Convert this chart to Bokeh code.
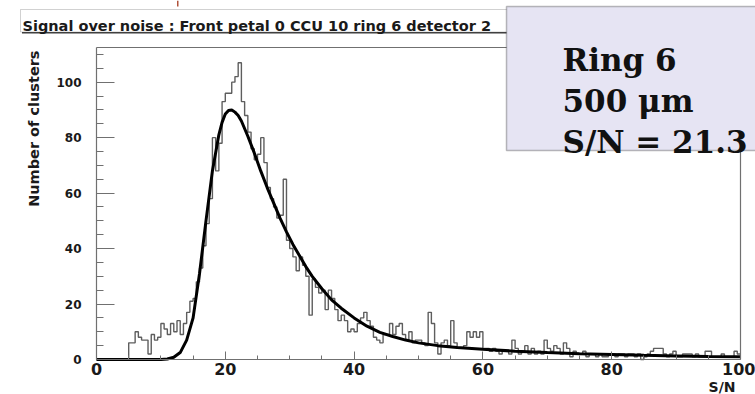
from bokeh.plotting import figure
from bokeh.models import Range1d, FixedTicker, Label, BoxAnnotation, LinearAxis
from bokeh.embed import file_html
from bokeh.resources import INLINE

# ---- histogram: clusters per S/N bin (bin width 0.5, range 0..100) ----
bin_width = 0.5
counts = [
    0, 0, 0, 0, 0, 0, 0, 0, 0, 0,            # 0.0 - 4.5
    6, 6, 10, 8, 7, 7, 2, 9, 7, 8,           # 5.0 - 9.5
    13, 11, 9, 13, 10, 14, 9, 13, 17, 21,    # 10.0 - 14.5
    22, 28, 33, 41, 49, 58, 80, 68, 78, 93,  # 15.0 - 19.5
    96, 96, 100, 102, 107, 93, 88, 82, 76, 72,  # 20.0 - 24.5
    74, 80, 71, 62, 58, 55, 51, 52, 65, 43,  # 25.0 - 29.5
    40, 37, 32, 37, 34, 30, 16, 29, 26, 24,  # 30.0 - 34.5
    25, 18, 25, 22, 18, 14, 16, 14, 10, 11,  # 35.0 - 39.5
    10, 13, 15, 17, 14, 12, 8, 7, 6, 9,      # 40.0 - 44.5
    9, 13, 9, 12, 13, 9, 7, 10, 6, 7,        # 45.0 - 49.5
    7, 6, 5, 17, 13, 6, 2, 6, 7, 5,          # 50.0 - 54.5
    14, 6, 4, 4, 5, 10, 8, 10, 8, 10,        # 55.0 - 59.5
    4, 4, 3, 4, 3, 2, 3, 3, 2, 7,            # 60.0 - 64.5
    4, 2, 3, 5, 2, 4, 2, 3, 2, 7,            # 65.0 - 69.5
    4, 3, 5, 4, 2, 6, 4, 1, 3, 2,            # 70.0 - 74.5
    2, 3, 1, 2, 2, 1, 2, 1, 1, 2,            # 75.0 - 79.5
    2, 1, 2, 2, 1, 2, 2, 1, 2, 0,            # 80.0 - 84.5
    1, 2, 3, 4, 4, 4, 2, 1, 2, 3,            # 85.0 - 89.5
    1, 1, 2, 2, 2, 1, 2, 1, 1, 3,            # 90.0 - 94.5
    3, 1, 1, 1, 2, 1, 1, 1, 3, 2,            # 95.0 - 99.5
]
bin_left = [i * bin_width for i in range(len(counts))]

# ---- Landau-like fit curve, sampled ----
fit_x = [0, 5, 10, 11, 12, 13, 14, 15, 16, 17, 18, 19, 19.5, 20, 20.5, 21,
         21.5, 22, 22.5, 23.5, 24.5, 25.5, 26.5, 27.5, 28.5, 29.5, 30.5,
         31.5, 32.5, 33.5, 35, 36.5, 38, 40, 42, 44, 46, 48, 50, 53, 56,
         60, 65, 70, 75, 80, 85, 90, 95, 100]
fit_y = [0, 0, 0, 0.2, 0.8, 2.5, 7, 15, 31, 50, 68, 81, 85.5, 88.5, 89.8, 90,
         89.2, 88, 86, 80.5, 74.5, 68, 62, 56.5, 51, 46, 41.5,
         37.5, 33.5, 30, 25.5, 21.5, 18.5, 15, 12, 9.8, 8.3, 7, 6, 5, 4.3,
         3.7, 3, 2.5, 2.1, 1.8, 1.5, 1.3, 1.1, 1.0]

x_major = [0, 20, 40, 60, 80, 100]
x_minor = [5, 10, 15, 25, 30, 35, 45, 50, 55, 65, 70, 75, 85, 90, 95]
y_major = [0, 20, 40, 60, 80, 100]
y_minor = [5, 10, 15, 25, 30, 35, 45, 50, 55, 65, 70, 75, 85, 90, 95, 105, 110]

title_text = "Signal over noise : Front petal 0 CCU 10 ring 6 detector 2"
box_lines = ["Ring 6", "500 \u03bcm", "S/N = 21.3"]

# ---- page geometry (pixels) ----
W, H = 755, 394
X_LO, X_HI = 0.0, 100.0          # histogram axis range
Y_LO, Y_HI = 0.0, 112.5
PX_XLO, PX_XHI = 96, 740         # where the axis box sits on the page
PX_YLO, PX_YHI = 359, 47

sx_per = (PX_XHI - PX_XLO) / (X_HI - X_LO)
sy_per = (PX_YLO - PX_YHI) / (Y_HI - Y_LO)

# the plotting frame covers the whole page; axes are pinned to the box edges
x_range = Range1d(X_LO - PX_XLO / sx_per, X_LO + (W - PX_XLO) / sx_per)
y_range = Range1d(Y_LO - (H - PX_YLO) / sy_per, Y_LO + PX_YLO / sy_per)


def sx(px):
    """page x -> screen x of the frame"""
    return px


def sy(py):
    """page y (from top) -> screen y (from bottom)"""
    return H - py


def screen_box(left, right, top, bottom, **kw):
    return BoxAnnotation(left=sx(left), right=sx(right), top=sy(top), bottom=sy(bottom),
                         left_units="screen", right_units="screen",
                         top_units="screen", bottom_units="screen", **kw)


p = figure(width=W, height=H, output_backend="svg", toolbar_location=None,
           x_range=x_range, y_range=y_range,
           min_border=0, min_border_left=0, min_border_right=0,
           min_border_top=0, min_border_bottom=0)
p.grid.visible = False
p.outline_line_color = None
p.background_fill_color = "white"
p.border_fill_color = "white"

axis_col = "#707070"
label_font = "DejaVu Sans"


def style_axis(ax):
    ax.axis_line_color = axis_col
    ax.axis_line_width = 1.2
    ax.major_tick_line_color = axis_col
    ax.minor_tick_line_color = axis_col
    ax.major_tick_out = 0
    ax.minor_tick_out = 0
    ax.major_label_text_font = label_font
    ax.major_label_text_font_style = "bold"
    ax.major_label_text_color = "#1a1a1a"


xa = p.xaxis[0]
ya = p.yaxis[0]
style_axis(xa)
style_axis(ya)
xa.fixed_location = Y_LO
xa.bounds = (X_LO, X_HI)
ya.fixed_location = X_LO
ya.bounds = (Y_LO, Y_HI)

xa.ticker = FixedTicker(ticks=x_major, minor_ticks=x_minor)
ya.ticker = FixedTicker(ticks=y_major, minor_ticks=y_minor)
xa.major_tick_in = 8
xa.minor_tick_in = 4
ya.major_tick_in = 18
ya.minor_tick_in = 7
xa.major_label_text_font_size = "16px"
xa.major_label_standoff = 3
ya.major_label_text_font_size = "12px"
ya.major_label_standoff = 15

# closing edges of the axis box (top and right), no ticks
for place, loc, bnds in (("above", Y_HI, (X_LO, X_HI)), ("right", X_HI, (Y_LO, Y_HI))):
    edge = LinearAxis(fixed_location=loc, bounds=bnds,
                      ticker=FixedTicker(ticks=[], minor_ticks=[]))
    style_axis(edge)
    edge.major_label_text_font_size = "0px"
    p.add_layout(edge, place)

# histogram outline
p.step(x=bin_left + [X_HI], y=counts + [counts[-1]], mode="after",
       line_color="#5e5e5e", line_width=1.4)
# fit
p.line(x=fit_x, y=fit_y, line_color="black", line_width=3)

# axis titles
p.add_layout(Label(x=sx(33), y=sy(50), x_units="screen", y_units="screen",
                   text="Number of clusters", angle=1.5708,
                   text_align="right", text_baseline="alphabetic",
                   text_font=label_font, text_font_style="bold",
                   text_font_size="14.5px", text_color="#1a1a1a"))
p.add_layout(Label(x=sx(735), y=sy(386), x_units="screen", y_units="screen",
                   text="S/N", text_align="right", text_baseline="alphabetic",
                   text_font=label_font, text_font_style="bold",
                   text_font_size="14px", text_color="#1a1a1a"))

# small red mark at the top edge
p.add_layout(screen_box(176.5, 178, 0, 6, fill_color="#b0523a", fill_alpha=1,
                        line_color=None))

# title pave with shadow
p.add_layout(screen_box(21.5, 534.5, 10.5, 33, fill_color="#3a3a3a", fill_alpha=1,
                        line_color=None))
p.add_layout(screen_box(20, 533, 9, 31.5, fill_color="white", fill_alpha=1,
                        line_color="#666666", line_width=1))
p.add_layout(Label(x=sx(22), y=sy(25.5), x_units="screen", y_units="screen",
                   text=title_text, text_align="left", text_baseline="alphabetic",
                   text_font=label_font, text_font_style="bold",
                   text_font_size="14.5px", text_color="#1a1a1a"))

# info box
p.add_layout(screen_box(506, 770, 6, 150, fill_color="#e6e4f3", fill_alpha=1,
                        line_color="#222222", line_width=1.5))
for line, base in zip(box_lines, [59, 100, 141]):
    p.add_layout(Label(x=sx(562), y=sy(base), x_units="screen", y_units="screen",
                       text=line, text_align="left", text_baseline="alphabetic",
                       text_font="DejaVu Serif", text_font_style="bold",
                       text_font_size="31px", text_color="#111111"))

open("out.html", "w").write(file_html(p, INLINE))
